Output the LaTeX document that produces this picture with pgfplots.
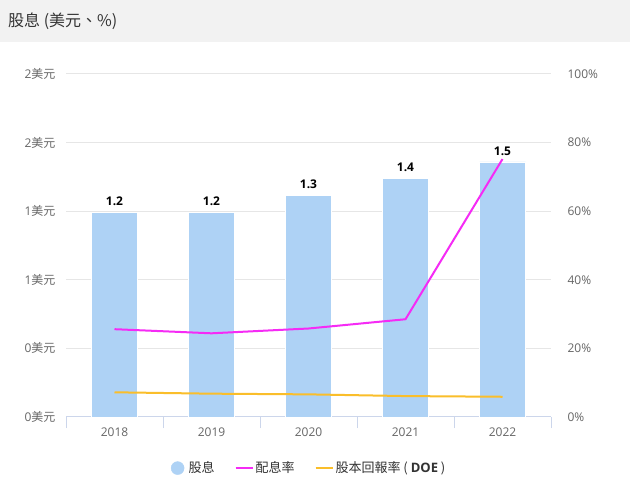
\documentclass[border=0pt]{standalone}
\usepackage{fontspec}
\setmainfont{Open Sans}
\newfontfamily\cjk{Noto Sans CJK TC}
\usepackage{pgfplots}
\usepackage{pgfplotstable}
\pgfplotsset{compat=1.18}
\definecolor{barblue}{HTML}{AED2F5}
\definecolor{payout}{HTML}{F52BF5}
\definecolor{doe}{HTML}{FABE2A}
\definecolor{gridc}{HTML}{E6E6E6}
\definecolor{axisc}{HTML}{CCD6EB}
\definecolor{labelc}{HTML}{666666}
\definecolor{titlebg}{HTML}{F2F2F2}
\definecolor{titletext}{HTML}{333333}

% year, dividend (USD), payout ratio (%), DOE (%)
\pgfplotstableread{
x div payout doe
0 1.195 25.6 7.2
1 1.195 24.4 6.8
2 1.290 25.8 6.6
3 1.392 28.5 6.1
4 1.487 75.2 5.9
}\divdata

\pgfplotsset{
  common/.style={
    at={(66bp,76bp)}, anchor=south west, scale only axis,
    width=485bp, height=343bp, xmin=-0.5, xmax=4.5,
    /pgf/number format/assume math mode=true,
    tick label style={font=\fontsize{12bp}{14bp}\selectfont, text=labelc},
    ytick style={draw=none},
  }
}

\begin{document}
\begin{tikzpicture}
\fill[white] (0bp,0bp) rectangle (630bp,493bp);
\fill[titlebg] (0bp,451bp) rectangle (630bp,493bp);
\node[anchor=west, inner sep=0pt, text=titletext, font=\fontsize{16bp}{19bp}\selectfont\cjk] at (8bp,472bp) {股息 (美元、\%)};

\begin{axis}[common,
  ymin=0, ymax=2,
  axis x line*=bottom, axis y line*=left,
  y axis line style={draw=none},
  x axis line style={draw=axisc, line width=1bp},
  xtick={-0.5,0.5,1.5,2.5,3.5,4.5},
  x tick label as interval=true,
  xticklabels={2018,2019,2020,2021,2022},
  xticklabel style={yshift=4bp},
  xtick style={draw=axisc, line width=1bp},
  major tick length=11bp, tick align=outside,
  ytick={0,0.4,0.8,1.2,1.6,2},
  yticklabels={0{\cjk 美元},0{\cjk 美元},1{\cjk 美元},1{\cjk 美元},2{\cjk 美元},2{\cjk 美元}},
  yticklabel style={xshift=4bp},
  ymajorgrids, grid style={draw=gridc, line width=1bp},
]
  \addplot[ybar, bar width=46bp, fill=barblue, draw=white, line width=0.6bp,
    nodes near coords={\pgfmathprintnumber[fixed,fixed zerofill,precision=1]{\pgfplotspointmeta}},
    every node near coord/.append style={font=\fontsize{12bp}{14bp}\selectfont\bfseries, text=black, yshift=3bp}]
    table[x=x, y=div] {\divdata};
\end{axis}

\begin{axis}[common,
  ymin=0, ymax=100,
  hide x axis,
  axis y line*=right,
  y axis line style={draw=none},
  ytick={0,20,40,60,80,100},
  yticklabels={0\%,20\%,40\%,60\%,80\%,100\%},
  yticklabel style={xshift=13bp},
  legend style={at={(0.501,-0.149)}, anchor=center, draw=none, fill=none,
    font=\fontsize{13bp}{16bp}\selectfont\cjk, text=titletext,
    /tikz/every even column/.append style={column sep=18bp}},
  legend columns=3,
  legend image code/.code={\draw[#1] (0bp,0bp) -- (17bp,0bp);},
]
  \addlegendimage{legend image code/.code={\path[draw=none, fill=none] (0bp,-1bp) rectangle (16bp,1bp); \fill[barblue] (7bp,0bp) circle (6.5bp);}}
  \addlegendentry{股息}
  \addplot[payout, line width=2bp, mark=none] table[x=x, y=payout] {\divdata};
  \addlegendentry{配息率}
  \addplot[doe, line width=2bp, mark=none] table[x=x, y=doe] {\divdata};
  \addlegendentry{股本回報率 ( {\fontspec{Open Sans}\bfseries DOE} )}
\end{axis}
\end{tikzpicture}
\end{document}
